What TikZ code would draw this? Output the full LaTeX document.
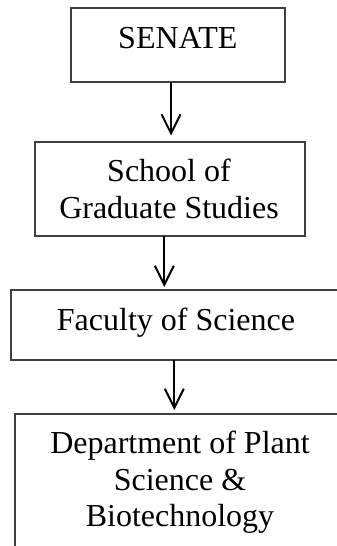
\documentclass[tikz,border=0pt]{standalone}
\usepackage{fontspec}
\setmainfont{Liberation Serif}
\usetikzlibrary{arrows.meta}
\begin{document}
\begin{tikzpicture}[x=1pt, y=-1pt,
  box/.style={draw=black!75, line width=2pt, rectangle, inner sep=0pt, outer sep=0pt},
  txt/.style={inner sep=0pt, anchor=base, font=\fontsize{32}{37}\selectfont},
  arr/.style={line width=2pt, -{Straight Barb[length=19pt, width=19pt, line width=2pt]}}]
  % page area
  \fill[white] (0,0) rectangle (337,546);
  \clip (0,0) rectangle (337,546);

  % boxes
  \node[box, minimum width=214pt, minimum height=74pt] (s1) at (178,44.6) {};
  \node[box, minimum width=270pt, minimum height=94pt] (s2) at (170,189) {};
  \node[box, minimum width=330pt, minimum height=70pt] (s3) at (176,325) {};
  \node[box, minimum width=330pt, minimum height=146pt] (s4) at (180,487) {};

  % labels
  \node[txt] (t1) at (177.8,48.3) {SENATE};
  \node[txt] (t2a) at (169,181.7) {School of};
  \node[txt] (t2b) at (169,218.3) {Graduate Studies};
  \node[txt] (t3) at (176,330) {Faculty of Science};
  \node[txt] (t4a) at (180,453) {Department of Plant};
  \node[txt] (t4b) at (180,490) {Science \&};
  \node[txt] (t4c) at (180,526.7) {Biotechnology};

  % connectors
  \draw[arr, shorten >=6.5pt] ([xshift=-7pt]s1.south) -- ([xshift=-7pt]s1.south |- s2.north);
  \draw[arr, shorten >=3pt] ([xshift=-5.7pt]s2.south) -- ([xshift=-5.7pt]s2.south |- s3.north);
  \draw[arr, shorten >=4pt] ([xshift=-1.7pt]s3.south) -- ([xshift=-1.7pt]s3.south |- s4.north);
\end{tikzpicture}
\end{document}
